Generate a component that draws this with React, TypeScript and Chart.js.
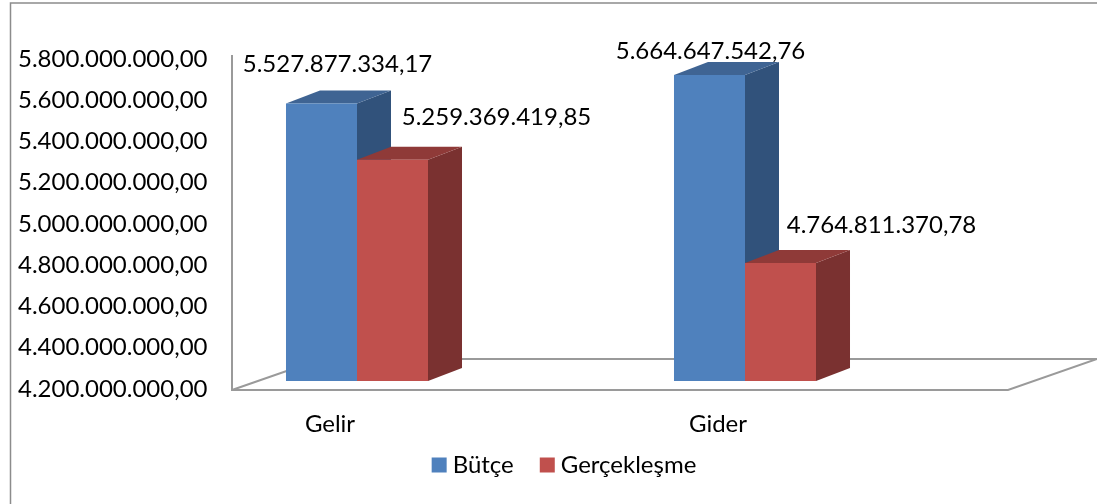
import React, { useEffect, useRef } from "react";
import { Chart, registerables } from "chart.js";

Chart.register(...registerables);

const categories = ["Gelir", "Gider"];
const seriesNames = ["Bütçe", "Gerçekleşme"];
const butce = [5527877334.17, 5664647542.76];
const gerceklesme = [5259369419.85, 4764811370.78];
const yTickValues = [
  4200000000, 4400000000, 4600000000, 4800000000, 5000000000, 5200000000, 5400000000, 5600000000, 5800000000,
];
const BASE_VALUE = 4200000000;

const FONT = "Lato, Carlito, sans-serif";
const FONT_SIZE = 24;
const BLUE = { front: "#4F81BD", side: "#31527B", top: "#3F6493" };
const RED = { front: "#C0504D", side: "#7A3130", top: "#8F3A38" };
const LINE = "#9A9A9A";
const DEPTH_X = 34;
const DEPTH_Y = 13;
// label offset from the bar's top-centre, [dataset][category]
const LABEL_OFFSETS = [
  [[16, -39], [1, -24]],
  [[104, -42], [101, -38]],
];

const fmt = (v: number) =>
  new Intl.NumberFormat("tr-TR", { minimumFractionDigits: 2, maximumFractionDigits: 2 }).format(v);

const decor = {
  id: "decor3d",
  beforeLayout(chart: any) {
    const legend = chart.legend;
    if (legend && !legend.__fitWrapped) {
      const fit = legend.fit;
      legend.fit = function () {
        fit.call(this);
        this.height = 52;
      };
      legend.__fitWrapped = true;
    }
  },
  afterLayout(chart: any) {
    if (chart.legend) chart.legend.top = 421;
  },
  beforeDatasetsDraw(chart: any) {
    const { ctx } = chart;
    const area = chart.chartArea;
    const left = area.left + 69;
    const right = area.right + 69;
    const front = area.bottom - 2;
    const back = front - 31;
    const axisTop = area.top + 9;
    ctx.save();
    // outer frame
    ctx.strokeStyle = "#8C8C8C";
    ctx.lineWidth = 1.5;
    ctx.beginPath();
    ctx.moveTo(10.5, 504);
    ctx.lineTo(10.5, 3);
    ctx.lineTo(1097, 3);
    ctx.stroke();
    // wall axis and floor
    ctx.strokeStyle = LINE;
    ctx.lineWidth = 2;
    ctx.beginPath();
    ctx.moveTo(left, axisTop);
    ctx.lineTo(left, front);
    ctx.lineTo(right, front);
    ctx.lineTo(right + 89, back);
    ctx.lineTo(left + 89, back);
    ctx.lineTo(left, front);
    ctx.stroke();
    // side and top faces
    [BLUE, RED].forEach((c, d) => {
      const meta = chart.getDatasetMeta(d);
      meta.data.forEach((bar: any) => {
        const p = bar.getProps(["x", "y", "base", "width"], true);
        const xl = p.x - p.width / 2;
        const xr = p.x + p.width / 2;
        ctx.fillStyle = c.side;
        ctx.beginPath();
        ctx.moveTo(xr, p.y);
        ctx.lineTo(xr + DEPTH_X, p.y - DEPTH_Y);
        ctx.lineTo(xr + DEPTH_X, p.base - DEPTH_Y);
        ctx.lineTo(xr, p.base);
        ctx.closePath();
        ctx.fill();
        ctx.fillStyle = c.top;
        ctx.beginPath();
        ctx.moveTo(xl, p.y);
        ctx.lineTo(xl + DEPTH_X, p.y - DEPTH_Y);
        ctx.lineTo(xr + DEPTH_X, p.y - DEPTH_Y);
        ctx.lineTo(xr, p.y);
        ctx.closePath();
        ctx.fill();
      });
    });
    ctx.restore();
  },
  afterDatasetsDraw(chart: any) {
    const { ctx } = chart;
    ctx.save();
    ctx.font = `${FONT_SIZE}px ${FONT}`;
    ctx.fillStyle = "#000000";
    ctx.textAlign = "center";
    ctx.textBaseline = "middle";
    chart.data.datasets.forEach((ds: any, d: number) => {
      chart.getDatasetMeta(d).data.forEach((bar: any, i: number) => {
        const p = bar.getProps(["x", "y"], true);
        const [dx, dy] = LABEL_OFFSETS[d][i];
        ctx.fillText(fmt(ds.data[i]), p.x + dx, p.y + dy);
      });
    });
    ctx.restore();
  },
};

export default function App() {
  const ref = useRef<HTMLCanvasElement>(null);
  useEffect(() => {
    const chart = new Chart(ref.current as HTMLCanvasElement, {
      type: "bar",
      data: {
        labels: categories,
        datasets: [
          {
            label: seriesNames[0],
            data: butce,
            backgroundColor: BLUE.front,
            base: BASE_VALUE,
            yAxisID: "yBars",
            categoryPercentage: 0.366,
            barPercentage: 1,
          },
          {
            label: seriesNames[1],
            data: gerceklesme,
            backgroundColor: RED.front,
            base: BASE_VALUE,
            yAxisID: "yBars",
            categoryPercentage: 0.366,
            barPercentage: 1,
          },
        ],
      } as any,
      options: {
        responsive: false,
        animation: false,
        layout: { padding: { left: 37, top: 46, right: 0, bottom: 16 } },
        plugins: {
          tooltip: { enabled: false },
          legend: {
            position: "bottom",
            labels: {
              usePointStyle: true,
              pointStyle: "rect",
              boxWidth: 3,
              boxHeight: 15,
              padding: 32,
              color: "#000000",
              font: { family: FONT, size: FONT_SIZE },
            },
          },
        },
        scales: {
          x: {
            offset: true,
            grid: { display: false },
            border: { display: false },
            ticks: {
              color: "#000000",
              padding: 10,
              labelOffset: -27,
              maxRotation: 0,
              font: { family: FONT, size: FONT_SIZE },
            },
            afterFit(s: any) {
              s.height = 44;
            },
          },
          y: {
            position: "left",
            min: 4180600000,
            max: 5858200000,
            grid: { display: false },
            border: { display: false },
            afterBuildTicks(s: any) {
              s.ticks = yTickValues.map((value) => ({ value }));
            },
            ticks: {
              autoSkip: false,
              mirror: true,
              color: "#000000",
              padding: -145,
              labelOffset: 1,
              font: { family: FONT, size: FONT_SIZE },
              callback: (v: any) => fmt(Number(v)),
            },
            afterFit(s: any) {
              s.width = 126;
            },
          },
          yBars: {
            position: "right",
            min: 4147300000,
            max: 5803600000,
            grid: { display: false },
            border: { display: false },
            ticks: { display: false },
            afterFit(s: any) {
              s.width = 158;
            },
          },
        },
      } as any,
      plugins: [decor],
    });
    return () => chart.destroy();
  }, []);
  return (
    <div style={{ position: "absolute", left: 0, top: 0, width: 1097, height: 504, background: "#fff" }}>
      <canvas ref={ref} width={1097} height={504} style={{ display: "block" }} />
    </div>
  );
}
